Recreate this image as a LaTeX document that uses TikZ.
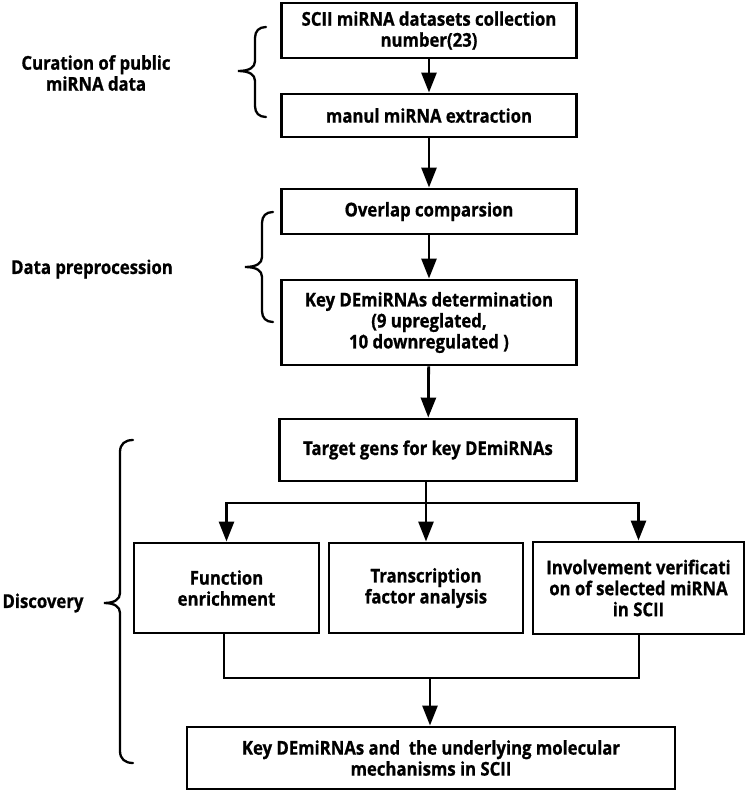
\documentclass[tikz,border=0pt]{standalone}
\usepackage{fontspec}
\setmainfont{Open Sans}[FakeStretch=0.88, BoldFeatures={FakeBold=0.8}]
\usetikzlibrary{arrows.meta}
\tikzset{
  box/.style={draw=black, line width=2.9pt, fill=white, align=center, inner sep=2pt,
              font=\fontsize{19}{21}\selectfont\bfseries},
  conn/.style={line width=2.8pt},
  arr/.style={line width=2.8pt, -{Triangle[length=20pt,width=15pt]}},
  brace/.style={line width=2.3pt, line cap=round},
  lab/.style={align=center, font=\fontsize{19}{21}\selectfont\bfseries}
}
\begin{document}
\begin{tikzpicture}[x=1pt,y=-1pt]
\useasboundingbox (0,0) rectangle (747,792);
% boxes
\node[box, minimum width=295pt, minimum height=55pt] (b1) at (429,30.5) {SCII miRNA datasets collection\\number(23)};
\node[box, minimum width=295pt, minimum height=43pt] (b2) at (429,115.5) {manul miRNA extraction};
\node[box, minimum width=295pt, minimum height=45pt] (b3) at (429,211.5) {Overlap comparsion};
\node[box, minimum width=295pt, minimum height=85pt] (b4) at (429,322.5) {Key DEmiRNAs determination\\(9 upreglated,\\10 downregulated )};
\node[box, minimum width=297pt, minimum height=62pt] (b5) at (428,450) {Target gens for key DEmiRNAs};
\node[box, minimum width=185pt, minimum height=90pt] (f1) at (226.5,588) {Function\\enrichment};
\node[box, minimum width=194pt, minimum height=90pt] (f2) at (426,588) {Transcription\\factor analysis};
\node[box, minimum width=211pt, minimum height=92pt] (f3) at (638.5,588) {Involvement verificati\\on of selected miRNA\\in SCII};
\node[box, minimum width=488pt, minimum height=62pt] (fin) at (431,758) {Key DEmiRNAs and\ \ the underlying molecular\\mechanisms in SCII};
% labels
\node[lab] (l1) at (96,73) {Curation of public\\miRNA data};
\node[lab] (l2) at (92,269) {Data preprocession};
\node[lab] (l3) at (43,603) {Discovery};
% vertical flow
\draw[arr] (b1) -- (b2);
\draw[arr] (b2) -- (b3);
\draw[arr] (b3) -- (b4);
\draw[arr] (b4) -- (b5);
% branching
\coordinate (bl) at (f1.north |- 0,503);
\coordinate (bm) at (f2.north |- 0,503);
\coordinate (br) at (f3.north |- 0,503);
\draw[conn] (b5.south -| bm) -- (bm);
\draw[conn] ([xshift=-1.4pt]bl) -- ([xshift=1.4pt]br);
\draw[arr] (bl) -- (f1.north);
\draw[arr] (bm) -- (f2.north);
\draw[arr] (br) -- (f3.north);
% merging
\coordinate (ml) at (224,678);
\coordinate (mr) at (639,678);
\coordinate (mm) at (430,678);
\draw[conn] (f1.south -| ml) -- (ml) -- (mr) -- (f3.south -| mr);
\draw[arr] (mm) -- (fin.north -| mm);
% braces
\draw[brace] (266,27) .. controls (259,27) and (255,31) .. (255,38) -- (255,61)
  .. controls (255,67) and (250,71) .. (238,71)
  .. controls (250,71) and (255,75) .. (255,81) -- (255,106)
  .. controls (255,113) and (259,117) .. (266,117);
\draw[brace] (273,212) .. controls (266,212) and (262,216) .. (262,223) -- (262,257)
  .. controls (262,263) and (257,267) .. (245,267)
  .. controls (257,267) and (262,271) .. (262,277) -- (262,311)
  .. controls (262,318) and (266,322) .. (273,322);
\draw[brace] (133,440) .. controls (125,440) and (120,444) .. (120,452) -- (120,593)
  .. controls (120,599) and (115,603) .. (104,603)
  .. controls (115,603) and (120,607) .. (120,613) -- (120,751)
  .. controls (120,759) and (125,763) .. (133,763);
\end{tikzpicture}
\end{document}
